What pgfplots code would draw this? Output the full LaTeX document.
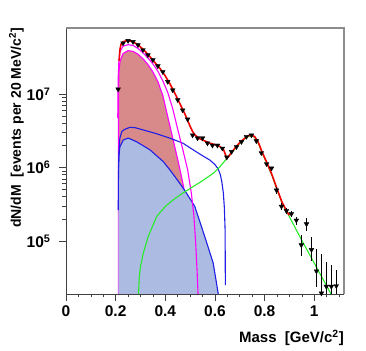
\documentclass[border=0pt]{standalone}
\usepackage{pgfplots}
\pgfplotsset{compat=1.18}
\usepackage{fontspec}
\setmainfont{Liberation Sans}
\definecolor{redfill}{RGB}{216,138,138}
\definecolor{bluefill}{RGB}{171,187,225}
\definecolor{mag}{RGB}{255,0,255}
\definecolor{bl}{RGB}{30,30,230}
\definecolor{gr}{RGB}{40,235,40}
\definecolor{rd}{RGB}{240,0,0}
\begin{document}
\begin{tikzpicture}
\begin{axis}[name=ax, width=278bp, height=266bp, scale only axis,
  xmin=0, xmax=1.12, ymode=log, ymin=1.9e4, ymax=7.9e7,
  axis lines=left, axis line style={-, draw=black!75, line width=0.8bp},
  xtick={0,0.2,0.4,0.6,0.8,1}, xticklabels={0,0.2,0.4,0.6,0.8,1},
  minor xtick={0.05,0.1,0.15,0.25,0.3,0.35,0.45,0.5,0.55,0.65,0.7,0.75,0.85,0.9,0.95,1.05,1.1},
  ytick={1e5,1e6,1e7},
  yticklabels={10\textsuperscript{5},10\textsuperscript{6},10\textsuperscript{7}},
  tick align=outside, major tick length=7bp, minor tick length=3.5bp,
  tick style={black!75, line width=0.6bp},
  ticklabel style={font=\fontsize{15.5bp}{17bp}\selectfont\bfseries},
  xticklabel style={yshift=-1bp},
  yticklabel style={xshift=-5bp},
  xlabel={Mass\ \ [GeV/c\textsuperscript{2}]},
  ylabel={dN/dM\ \ [events per 20 MeV/c\textsuperscript{2}]},
  xlabel style={at={(axis description cs:1,-0.184)}, anchor=base east, inner sep=0pt, font=\fontsize{15bp}{17bp}\selectfont\bfseries},
  ylabel style={at={(axis description cs:-0.162,1)}, anchor=base east, inner sep=0pt, font=\fontsize{14bp}{16bp}\selectfont\bfseries},
]
% red filled component (inner magenta)
\addplot[draw=mag, line width=1.1bp, fill=redfill] coordinates {
(0.2115,1e3) (0.2115,1.0e7) (0.213,2.0e7) (0.218,2.82e7) (0.23,3.55e7) (0.25,3.89e7)
(0.27,3.80e7) (0.29,3.47e7) (0.31,3.02e7) (0.33,2.51e7) (0.35,2.00e7) (0.37,1.48e7)
(0.39,9.55e6) (0.41,4.90e6) (0.43,2.51e6) (0.45,1.29e6) (0.47,6.31e5) (0.49,2.82e5)
(0.505,1.26e5) (0.515,5.01e4) (0.522,1.58e4) (0.522,1e3)} -- cycle;
% blue filled component
\addplot[draw=none, fill=bluefill] coordinates {
(0.2115,1e3) (0.2115,1.0e6) (0.213,1.41e6) (0.217,1.905e6) (0.231,2.37e6) (0.251,2.51e6)
(0.284,2.24e6) (0.338,1.74e6) (0.392,1.20e6) (0.418,9.33e5) (0.439,7.50e5) (0.48,4.79e5)
(0.519,2.95e5) (0.559,1.148e5) (0.593,5.01e4) (0.613,1.95e4) (0.62,1e4) (0.62,1e3)} -- cycle;
\addplot[bl, line width=1.1bp] coordinates {
(0.2115,1.0e6) (0.213,1.41e6) (0.217,1.905e6) (0.231,2.37e6) (0.251,2.51e6)
(0.284,2.24e6) (0.338,1.74e6) (0.392,1.20e6) (0.418,9.33e5) (0.439,7.50e5) (0.48,4.79e5)
(0.519,2.95e5) (0.559,1.148e5) (0.593,5.01e4) (0.613,1.95e4) (0.62,1e4)};
% outer blue line
\addplot[bl, line width=1.1bp] coordinates {
(0.2105,2.63e5) (0.211,5.62e5) (0.212,1.122e6) (0.214,1.778e6) (0.217,2.512e6) (0.225,3.09e6)
(0.237,3.31e6) (0.258,3.52e6) (0.28,3.47e6) (0.311,3.24e6) (0.365,2.88e6) (0.418,2.51e6)
(0.471,2.14e6) (0.512,1.74e6) (0.55,1.445e6) (0.58,1.259e6) (0.60,1.096e6) (0.613,9.55e5)
(0.622,7.94e5) (0.628,6.31e5) (0.634,4.47e5) (0.638,2.82e5) (0.641,1.41e5) (0.642,2.51e4)};
% outer magenta line
\addplot[mag, line width=1.1bp] coordinates {
(0.2085,4.68e6) (0.210,1.585e7) (0.213,2.82e7) (0.218,3.80e7) (0.23,4.47e7) (0.25,4.68e7)
(0.27,4.57e7) (0.29,4.17e7) (0.31,3.63e7) (0.33,3.09e7) (0.35,2.57e7) (0.37,2.04e7)
(0.39,1.51e7) (0.41,1.047e7) (0.43,6.31e6) (0.45,3.31e6) (0.47,1.78e6) (0.49,9.33e5)
(0.505,4.47e5) (0.515,2.24e5) (0.522,1.0e5) (0.528,3.98e4) (0.532,1.9e4) (0.533,1e4)};
% green line
\addplot[gr, line width=1.1bp] coordinates {
(0.291,1.585e4) (0.295,3.16e4) (0.30,4.47e4) (0.311,6.76e4) (0.33,1.122e5) (0.365,2.14e5)
(0.40,2.95e5) (0.432,3.63e5) (0.47,4.47e5) (0.512,5.50e5) (0.55,6.61e5) (0.593,8.32e5)
(0.62,1.023e6) (0.645,1.29e6) (0.67,1.62e6) (0.69,1.95e6) (0.71,2.29e6) (0.73,2.60e6)
(0.745,2.72e6) (0.76,2.57e6) (0.775,2.14e6) (0.79,1.585e6) (0.81,1.122e6) (0.83,7.76e5)
(0.85,5.01e5) (0.87,3.31e5) (0.89,2.45e5) (0.90,2.14e5) (0.95,1.02e5) (1.00,5.01e4)
(1.05,2.45e4) (1.08,1.585e4)};
% total fit
\addplot[rd, line width=1.6bp] coordinates {
(0.214,2.82e7) (0.217,3.98e7) (0.222,4.79e7) (0.230,5.13e7) (0.245,5.31e7) (0.26,5.25e7)
(0.28,4.90e7) (0.30,4.37e7) (0.32,3.76e7) (0.34,3.16e7) (0.36,2.63e7) (0.38,2.19e7)
(0.40,1.76e7) (0.42,1.35e7) (0.44,1.00e7) (0.46,7.24e6) (0.48,5.25e6) (0.50,3.63e6)
(0.51,3.09e6) (0.52,2.75e6) (0.54,2.45e6) (0.56,2.29e6) (0.58,2.14e6) (0.60,2.04e6)
(0.62,1.93e6) (0.635,1.74e6) (0.642,1.51e6) (0.647,1.32e6) (0.655,1.41e6) (0.67,1.66e6)
(0.69,2.00e6) (0.71,2.34e6) (0.73,2.66e6) (0.745,2.79e6) (0.76,2.63e6) (0.775,2.19e6)
(0.79,1.62e6) (0.81,1.15e6) (0.83,7.94e5) (0.85,5.13e5) (0.87,3.39e5) (0.89,2.51e5)
(0.90,2.24e5)};
% data
\addplot[only marks, mark=triangle*, mark size=2.7bp, mark options={rotate=180, fill=black, draw=black},
  error bars/.cd, y dir=both, y explicit, error mark=none,
  error bar style={black, line width=1.2bp}]
  table[x=x, y=y, y error plus=ep, y error minus=em] {
x y ep em
0.21 1.16e7 2e5 2e5
0.23 4.90e7 6e5 6e5
0.25 5.31e7 6e5 6e5
0.27 5.13e7 6e5 6e5
0.29 4.65e7 6e5 6e5
0.31 3.98e7 5e5 5e5
0.33 3.39e7 5e5 5e5
0.35 2.90e7 4e5 4e5
0.37 2.40e7 4e5 4e5
0.39 2.00e7 3e5 3e5
0.41 1.47e7 3e5 3e5
0.43 1.13e7 2e5 2e5
0.45 8.32e6 2e5 2e5
0.47 6.03e6 1e5 1e5
0.49 4.53e6 1e5 1e5
0.51 2.75e6 6e4 6e4
0.53 2.51e6 6e4 6e4
0.55 2.51e6 6e4 6e4
0.57 2.14e6 5e4 5e4
0.59 2.00e6 5e4 5e4
0.61 2.00e6 5e4 5e4
0.63 1.82e6 5e4 5e4
0.648 1.38e6 4e4 4e4
0.667 1.64e6 4e4 4e4
0.687 1.91e6 5e4 5e4
0.707 2.24e6 5e4 5e4
0.727 2.63e6 5e4 5e4
0.747 2.75e6 5e4 5e4
0.767 2.29e6 5e4 5e4
0.787 1.58e6 5e4 5e4
0.808 1.12e6 4e4 4e4
0.828 9.77e5 4e4 4e4
0.848 4.90e5 6e4 5.5e4
0.868 2.95e5 3e4 3e4
0.888 2.57e5 2.5e4 2.5e4
0.908 2.34e5 2.5e4 2.5e4
0.928 1.91e5 2.3e4 2.5e4
0.948 8.81e4 3.2e4 2.6e4
0.969 1.70e5 3.4e4 3.5e4
0.989 7.59e4 3.6e4 2.3e4
1.009 3.89e4 3.9e4 1.5e4
1.029 1.95e4 4.8e4 1.9e4
1.049 2.40e4 2.85e4 2.35e4
1.069 2.40e4 2.28e4 2.35e4
1.089 2.45e4 1.6e4 2.4e4
};
\end{axis}
\draw[black!45, line width=1.4bp] (ax.north west) -- (ax.north east) -- (ax.south east);
\pgfresetboundingbox
\path[use as bounding box] ([shift={(-66bp,-57bp)}]ax.south west) rectangle ([shift={(22bp,28bp)}]ax.north east);
\end{tikzpicture}
\end{document}
